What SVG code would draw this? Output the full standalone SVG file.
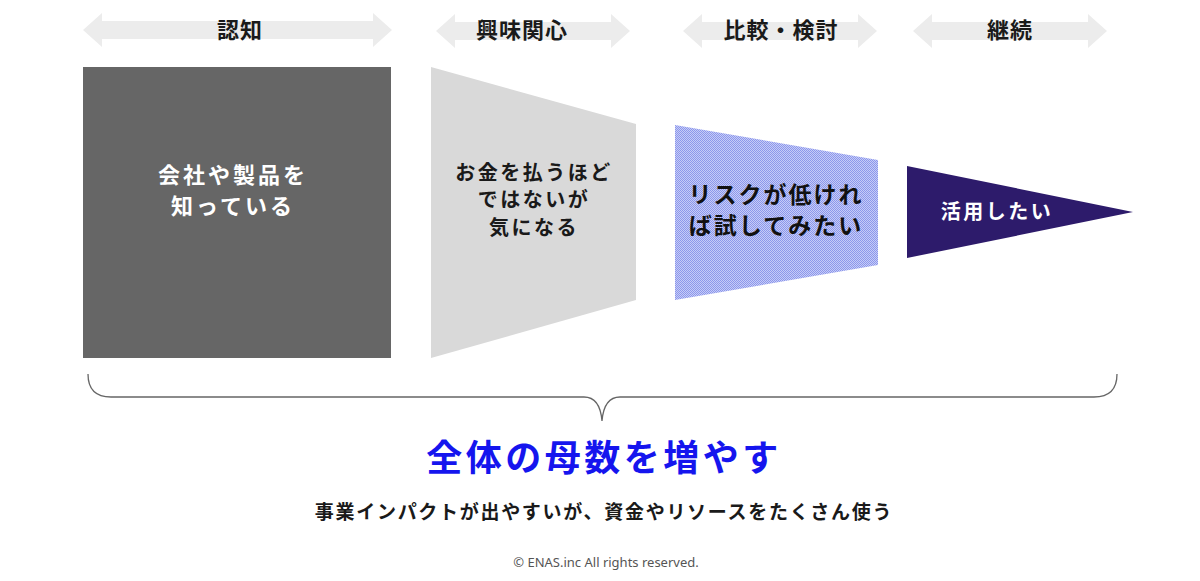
<svg xmlns="http://www.w3.org/2000/svg" width="1200" height="581" viewBox="0 0 1200 581">
<style>
.hdr{font-family:"Noto Sans CJK JP","Noto Sans",sans-serif;font-weight:700;font-size:22px;fill:#1a1a1a;text-anchor:middle;letter-spacing:1px}
.body{font-family:"Noto Sans CJK JP","Noto Sans",sans-serif;font-weight:700;font-size:20px;text-anchor:middle;letter-spacing:2px}
.arrow{fill:#ececec}
</style>
<defs>
<pattern id="hatch" width="2" height="2" patternUnits="userSpaceOnUse">
<rect width="2" height="2" fill="#c6ccf7"/>
<rect x="0" y="0" width="1" height="1" fill="#8c97eb"/>
<rect x="1" y="1" width="1" height="1" fill="#8c97eb"/>
</pattern>
</defs>
<rect width="1200" height="581" fill="#ffffff"/>

<g id="stage-awareness">
<polygon class="arrow" points="83,30 102,13 102,21 373,21 373,13 392,30 373,47 373,39 102,39 102,47"/>
<text class="hdr" x="240" y="38">認知</text>
</g>
<g id="stage-interest">
<polygon class="arrow" points="436,31 455,14 455,22 611,22 611,14 630,31 611,48 611,40 455,40 455,48"/>
<text class="hdr" x="522" y="38">興味関心</text>
</g>
<g id="stage-compare">
<polygon class="arrow" points="683,31 702,14 702,22 858,22 858,14 877,31 858,48 858,40 702,40 702,48"/>
<text class="hdr" x="781" y="38">比較・検討</text>
</g>
<g id="stage-continue">
<polygon class="arrow" points="913,31 932,14 932,22 1088,22 1088,14 1107,31 1088,48 1088,40 932,40 932,48"/>
<text class="hdr" x="1010" y="38">継続</text>
</g>

<g id="node-awareness">
<rect x="83" y="67" width="308" height="291" fill="#666666"/>
<text class="body" x="233" y="183" fill="#ffffff" style="font-size:22px;letter-spacing:3px">会社や製品を</text>
<text class="body" x="233" y="214" fill="#ffffff" style="font-size:22px;letter-spacing:3px">知っている</text>
</g>
<g id="node-interest">
<polygon points="431,67 636,124 636,300 431,358" fill="#d9d9d9"/>
<text class="body" x="534" y="180" fill="#1a1a1a" style="letter-spacing:2.5px">お金を払うほど</text>
<text class="body" x="534" y="207" fill="#1a1a1a" style="letter-spacing:2.5px">ではないが</text>
<text class="body" x="534" y="235" fill="#1a1a1a" style="letter-spacing:2.5px">気になる</text>
</g>
<g id="node-compare">
<polygon points="675,125 878,160 878,265 675,300" fill="url(#hatch)"/>
<text class="body" x="776" y="203" fill="#111111" style="font-size:23px">リスクが低けれ</text>
<text class="body" x="776" y="234" fill="#111111" style="font-size:23px">ば試してみたい</text>
</g>
<g id="node-continue">
<polygon points="907,166 1133,212 907,258" fill="#2d1b6b"/>
<text class="body" x="997" y="219" fill="#ffffff" style="font-size:20px;letter-spacing:2.5px">活用したい</text>
</g>

<g id="connectors">
<path d="M88,374 Q88,397 111,397 L584,397 Q600,397 602,421 Q604,397 620,397 L1094,397 Q1117,397 1117,374" fill="none" stroke="#666666" stroke-width="1.3"/>
</g>

<g id="summary">
<text x="604" y="471" style="font-family:'Noto Sans CJK JP','Noto Sans',sans-serif;font-weight:700;font-size:36px;fill:#1515ee;text-anchor:middle;letter-spacing:3.5px">全体の母数を増やす</text>
<text x="604" y="519" style="font-family:'Noto Sans CJK JP','Noto Sans',sans-serif;font-weight:700;font-size:19px;fill:#1a1a1a;text-anchor:middle;letter-spacing:1.7px">事業インパクトが出やすいが、資金やリソースをたくさん使う</text>
<text x="606" y="567" style="font-family:'Noto Sans','Noto Sans CJK JP',sans-serif;font-size:13px;fill:#555555;text-anchor:middle">© ENAS.inc All rights reserved.</text>
</g>
</svg>
